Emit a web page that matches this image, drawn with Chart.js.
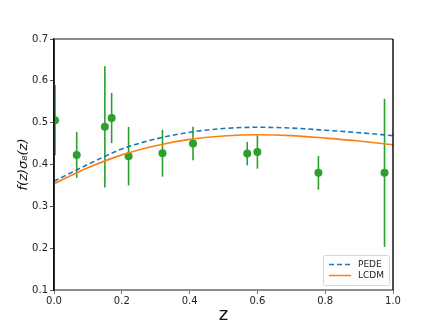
<!DOCTYPE html>
<html>
<head>
<meta charset="utf-8">
<script src="https://cdn.jsdelivr.net/npm/chart.js@4"></script>
<style>
html,body{margin:0;padding:0;background:#fff;}
#wrap{width:436px;height:327px;}
</style>
</head>
<body>
<div id="wrap"><canvas id="c" width="436" height="327"></canvas></div>
<script>
// Model curves
const curveZ    = [0.0, 0.1, 0.2, 0.3, 0.4, 0.5, 0.6, 0.7, 0.8, 0.9, 1.0];
const pedeVals  = [0.360, 0.400, 0.437, 0.461, 0.477, 0.486, 0.489, 0.487, 0.482, 0.476, 0.469];
const lcdmVals  = [0.354, 0.392, 0.423, 0.445, 0.460, 0.468, 0.471, 0.469, 0.463, 0.456, 0.447];
// Observational data
const dataZ     = [0.003, 0.067, 0.15, 0.17, 0.22, 0.32, 0.41, 0.57, 0.60, 0.78, 0.975];
const dataVals  = [0.506, 0.423, 0.490, 0.511, 0.420, 0.427, 0.450, 0.426, 0.430, 0.380, 0.380];
const dataErr   = [0.084, 0.055, 0.145, 0.060, 0.070, 0.056, 0.040, 0.028, 0.040, 0.040, 0.177];
const xTicks    = [0.0, 0.2, 0.4, 0.6, 0.8, 1.0];
const yTicks    = [0.1, 0.2, 0.3, 0.4, 0.5, 0.6, 0.7];
const seriesNames = ['PEDE', 'LCDM'];

const BLUE = '#1f77b4', ORANGE = '#ff7f0e', GREEN = '#2ca02c';
const FONT = 'DejaVu Sans';

const errorBars = {
  id: 'errorBars',
  beforeDatasetDraw(chart, args) {
    if (args.index !== 2) return;
    const {ctx, chartArea, scales: {x, y}} = chart;
    ctx.save();
    ctx.beginPath();
    ctx.rect(chartArea.left, chartArea.top, chartArea.right - chartArea.left, chartArea.bottom - chartArea.top);
    ctx.clip();
    ctx.strokeStyle = GREEN;
    ctx.lineWidth = 1.6;
    dataZ.forEach((z, i) => {
      const px = x.getPixelForValue(z);
      ctx.beginPath();
      ctx.moveTo(px, y.getPixelForValue(dataVals[i] - dataErr[i]));
      ctx.lineTo(px, y.getPixelForValue(dataVals[i] + dataErr[i]));
      ctx.stroke();
    });
    ctx.restore();
  }
};

const frame = {
  id: 'frame',
  afterDraw(chart) {
    const {ctx, chartArea: a} = chart;
    ctx.save();
    ctx.strokeStyle = '#8c8c8c';
    ctx.lineWidth = 2;
    ctx.beginPath(); ctx.moveTo(a.left, a.top); ctx.lineTo(a.right, a.top); ctx.stroke();
    ctx.strokeStyle = '#111';
    ctx.lineWidth = 1.5;
    ctx.beginPath(); ctx.moveTo(a.right, a.top); ctx.lineTo(a.right, a.bottom); ctx.stroke();
    ctx.beginPath(); ctx.moveTo(a.left, a.top); ctx.lineTo(a.left, a.bottom); ctx.stroke();
    // legend box (lower right)
    const bx = 323, by = 255, bw = 66, bh = 30;
    ctx.fillStyle = 'rgba(255,255,255,0.85)';
    ctx.strokeStyle = '#d6d6d6';
    ctx.lineWidth = 1;
    ctx.beginPath();
    if (ctx.roundRect) ctx.roundRect(bx + 0.5, by + 0.5, bw, bh, 2); else ctx.rect(bx + 0.5, by + 0.5, bw, bh);
    ctx.fill(); ctx.stroke();
    const ds = chart.data.datasets;
    [0, 1].forEach((k, i) => {
      const ly = by + 9.5 + i * 11;
      ctx.strokeStyle = ds[k].borderColor;
      ctx.lineWidth = 1.5;
      ctx.setLineDash(ds[k].borderDash || []);
      ctx.beginPath(); ctx.moveTo(bx + 6, ly); ctx.lineTo(bx + 28, ly); ctx.stroke();
      ctx.setLineDash([]);
      ctx.fillStyle = '#222';
      ctx.font = '9px "' + FONT + '"';
      ctx.textBaseline = 'middle';
      ctx.textAlign = 'left';
      ctx.fillText(ds[k].label, bx + 35, ly + 0.5);
    });
    ctx.restore();
  }
};

new Chart(document.getElementById('c'), {
  type: 'scatter',
  data: {
    datasets: [
      {
        label: seriesNames[0],
        data: curveZ.map((z, i) => ({x: z, y: pedeVals[i]})),
        showLine: true, borderColor: BLUE, borderWidth: 1.6, borderDash: [5, 3],
        pointRadius: 0, tension: 0.4, cubicInterpolationMode: 'monotone', order: 1
      },
      {
        label: seriesNames[1],
        data: curveZ.map((z, i) => ({x: z, y: lcdmVals[i]})),
        showLine: true, borderColor: ORANGE, borderWidth: 1.6,
        pointRadius: 0, tension: 0.4, cubicInterpolationMode: 'monotone', order: 2
      },
      {
        label: 'data',
        data: dataZ.map((z, i) => ({x: z, y: dataVals[i]})),
        showLine: false, backgroundColor: GREEN, borderColor: GREEN,
        pointRadius: 4, pointBorderWidth: 0, order: 3
      }
    ]
  },
  options: {
    responsive: false,
    animation: false,
    devicePixelRatio: 1,
    layout: {padding: {left: 0, top: 39, right: 43, bottom: 0}},
    plugins: {legend: {display: false}, tooltip: {enabled: false}},
    scales: {
      x: {
        type: 'linear', min: 0, max: 1,
        afterBuildTicks: s => { s.ticks = xTicks.map(v => ({value: v})); },
        afterFit: s => { s.height = 37; },
        ticks: {
          callback: v => Number(v).toFixed(1),
          font: {family: FONT, size: 10}, color: '#222', padding: 1, maxRotation: 0
        },
        grid: {drawOnChartArea: false, drawTicks: true, tickLength: 4, tickColor: '#777'},
        border: {display: true, color: '#8c8c8c', width: 2},
        title: {display: true, text: 'z', font: {family: FONT, size: 18}, color: '#111', padding: {top: 0, bottom: 1}}
      },
      y: {
        type: 'linear', min: 0.1, max: 0.7,
        afterBuildTicks: s => { s.ticks = yTicks.map(v => ({value: v})); },
        afterFit: s => { s.width = 54; },
        ticks: {
          callback: v => Number(v).toFixed(1),
          font: {family: FONT, size: 10}, color: '#222', padding: 2
        },
        grid: {drawOnChartArea: false, drawTicks: true, tickLength: 4, tickColor: '#555'},
        border: {display: true, color: '#111', width: 1.5},
        title: {display: true, text: 'f(z)σ₈(z)', font: {family: FONT, size: 13, style: 'italic'}, color: '#111', padding: {top: 16, bottom: 0}}
      }
    }
  },
  plugins: [errorBars, frame]
});
</script>
</body>
</html>
